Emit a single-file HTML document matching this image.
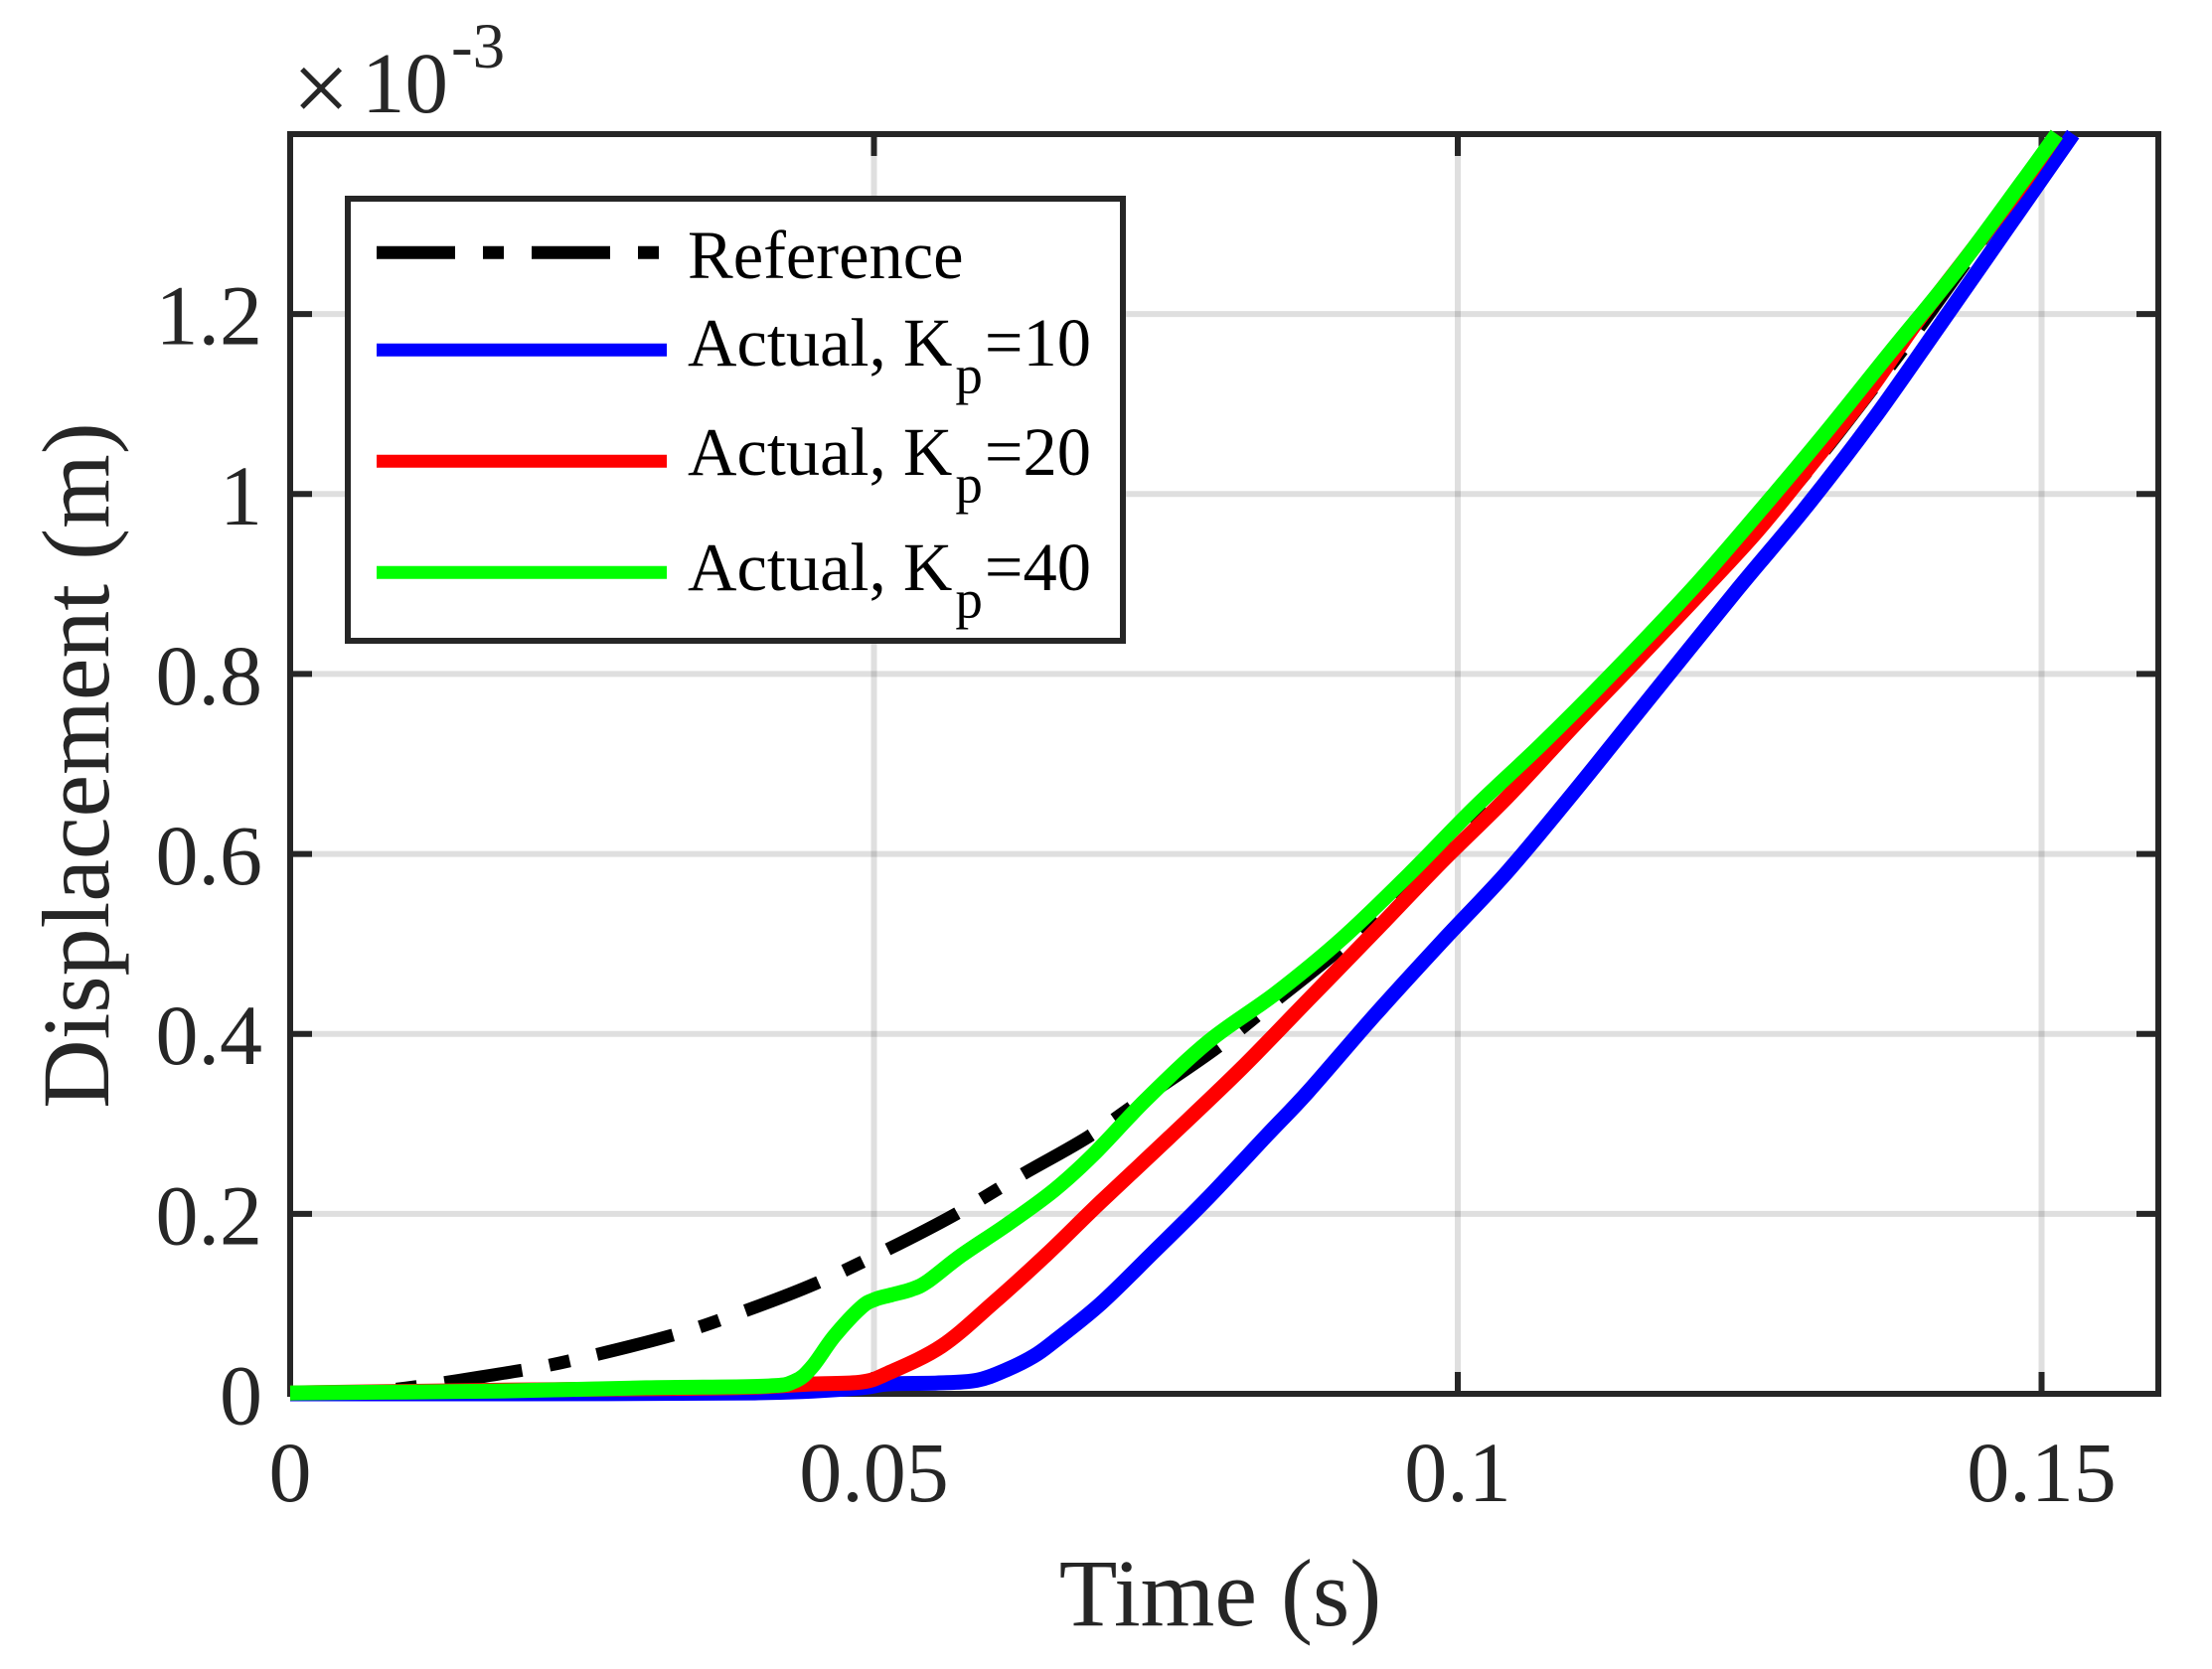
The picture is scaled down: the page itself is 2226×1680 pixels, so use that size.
<!DOCTYPE html>
<html lang="en">
<head>
<meta charset="utf-8">
<title>Displacement vs Time</title>
<style>
html,body{margin:0;padding:0;background:#fff;width:2226px;height:1680px;overflow:hidden}
svg{display:block}
text{font-family:"Liberation Serif","Times New Roman",serif}
</style>
</head>
<body>
<svg id="chart" xmlns="http://www.w3.org/2000/svg" width="2226" height="1680" viewBox="0 0 2226 1680">
  <rect x="0" y="0" width="2226" height="1680" fill="#fff"/>
  <rect x="292" y="135" width="1880" height="1268" fill="#fff"/>
  <g id="grid"></g>
  <g id="ticks"></g>
  <rect x="292" y="135" width="1880" height="1268" fill="none" stroke="#262626" stroke-width="6"/>
  <g id="tick-labels"></g>
  <g id="series"></g>

  <text x="1228" y="1636" font-size="96" fill="#262626" text-anchor="middle">Time (s)</text>
  <text transform="translate(109,770.5) rotate(-90)" font-size="96" fill="#262626" text-anchor="middle">Displacement (m)</text>

  <g fill="#262626">
    <text x="294" y="123" font-size="103">×</text>
    <text x="364" y="113" font-size="87">10</text>
    <text x="454" y="68" font-size="65">-3</text>
  </g>

  <g>
    <rect x="350" y="200" width="780" height="445" fill="#fff" stroke="#262626" stroke-width="6"/>
    <line x1="379" y1="254.3" x2="671" y2="254.3" stroke="#000" stroke-width="13" stroke-dasharray="79 28 21 28"/>
    <text x="692" y="280" font-size="68.5" fill="#000">Reference</text>
    <line x1="379" y1="352.3" x2="671" y2="352.3" stroke="#00f" stroke-width="13"/>
    <text x="692" y="368" font-size="68.5" fill="#000">Actual, K<tspan font-size="55" dx="3" dy="28">p</tspan><tspan dx="2" dy="-28">=10</tspan></text>
    <line x1="379" y1="464.3" x2="671" y2="464.3" stroke="#f00" stroke-width="13"/>
    <text x="692" y="478" font-size="68.5" fill="#000">Actual, K<tspan font-size="55" dx="3" dy="28">p</tspan><tspan dx="2" dy="-28">=20</tspan></text>
    <line x1="379" y1="576.3" x2="671" y2="576.3" stroke="#0f0" stroke-width="13"/>
    <text x="692" y="594" font-size="68.5" fill="#000">Actual, K<tspan font-size="55" dx="3" dy="28">p</tspan><tspan dx="2" dy="-28">=40</tspan></text>
  </g>
</svg>
<script>
const xTickValues = [0, 0.05, 0.1, 0.15];
const xTickLabels = ["0", "0.05", "0.1", "0.15"];
const yTickValues = [0, 0.2, 0.4, 0.6, 0.8, 1, 1.2];
const yTickLabels = ["0", "0.2", "0.4", "0.6", "0.8", "1", "1.2"];

const referenceTime = [0,0.005,0.0099,0.0164,0.023,0.0327,0.0387,0.0449,0.0511,0.0569,0.0626,0.0684,0.0736,0.0794,0.0844,0.0896,0.0945,0.0992,0.1038,0.1113,0.1169,0.1223,0.1266,0.1309,0.135,0.139,0.143,0.1468,0.1513];
const referenceValue = [0,0.001,0.0064,0.019,0.034,0.065,0.091,0.122,0.16,0.199,0.243,0.286,0.333,0.385,0.437,0.491,0.548,0.606,0.667,0.77,0.845,0.915,0.975,1.04,1.108,1.176,1.248,1.317,1.4];

const kp10Time = [0,0.0177,0.0398,0.0483,0.0512,0.0554,0.0588,0.0614,0.0637,0.0654,0.0694,0.0739,0.0784,0.0837,0.0872,0.0929,0.0986,0.1043,0.1099,0.1153,0.1237,0.1298,0.1356,0.1413,0.147,0.1527];
const kp10Value = [0,0,0.001,0.006,0.011,0.012,0.015,0.027,0.042,0.058,0.1,0.157,0.215,0.288,0.336,0.421,0.502,0.581,0.668,0.755,0.89,0.985,1.083,1.188,1.294,1.4];

const kp20Time = [0,0.0177,0.033,0.0398,0.0447,0.0489,0.0512,0.0558,0.0603,0.0648,0.0694,0.0753,0.0815,0.0872,0.0929,0.0986,0.1043,0.1099,0.1153,0.1207,0.1256,0.1298,0.1353,0.1387,0.141,0.1456,0.1484,0.1513];
const kp20Value = [0.001,0.004,0.006,0.0075,0.011,0.013,0.023,0.053,0.102,0.155,0.213,0.285,0.362,0.438,0.514,0.591,0.664,0.742,0.815,0.889,0.958,1.025,1.116,1.18,1.22,1.297,1.345,1.4];

const kp40Time = [0,0.0177,0.0305,0.0407,0.0432,0.0447,0.0466,0.0489,0.0501,0.0515,0.0532,0.0546,0.0575,0.0614,0.0654,0.0688,0.0733,0.0787,0.0844,0.0901,0.0958,0.1014,0.1071,0.1128,0.1199,0.1256,0.1313,0.137,0.1427,0.1484,0.1513];
const kp40Value = [0.001,0.003,0.0067,0.0086,0.014,0.03,0.064,0.096,0.105,0.11,0.116,0.125,0.154,0.188,0.226,0.266,0.327,0.392,0.445,0.506,0.577,0.651,0.721,0.795,0.892,0.977,1.065,1.157,1.248,1.348,1.4];

const NS = "http://www.w3.org/2000/svg";
const plotLeft = 292, plotRight = 2172, plotTop = 135, plotBottom = 1403;
const xMax = 0.16, yMax = 1.4;
const tickLength = 22;

function xScale(t) { return plotLeft + (t / xMax) * (plotRight - plotLeft); }
function yScale(v) { return plotBottom - (v / yMax) * (plotBottom - plotTop); }

function make(tag, attrs, parent) {
  const el = document.createElementNS(NS, tag);
  for (const k in attrs) el.setAttribute(k, attrs[k]);
  parent.appendChild(el);
  return el;
}

function smoothPath(times, values) {
  const p = times.map((t, i) => [xScale(t), yScale(values[i])]);
  let d = "M" + p[0][0].toFixed(2) + " " + p[0][1].toFixed(2);
  for (let i = 0; i < p.length - 1; i++) {
    const a = p[Math.max(i - 1, 0)], b = p[i], c = p[i + 1], e = p[Math.min(i + 2, p.length - 1)];
    const c1x = b[0] + (c[0] - a[0]) / 6, c1y = b[1] + (c[1] - a[1]) / 6;
    const c2x = c[0] - (e[0] - b[0]) / 6, c2y = c[1] - (e[1] - b[1]) / 6;
    d += "C" + c1x.toFixed(2) + " " + c1y.toFixed(2) + " " + c2x.toFixed(2) + " " + c2y.toFixed(2) + " " + c[0].toFixed(2) + " " + c[1].toFixed(2);
  }
  return d;
}

const gridGroup = document.getElementById("grid");
const tickGroup = document.getElementById("ticks");
const labelGroup = document.getElementById("tick-labels");
const seriesGroup = document.getElementById("series");

xTickValues.forEach((t, i) => {
  const x = xScale(t);
  if (t > 0) {
    const g = make("line", {x1: x, x2: x, y1: plotTop, y2: plotBottom, stroke: "#262626", "stroke-opacity": 0.15, "stroke-width": 6}, gridGroup);
    
    
    const tb = make("line", {x1: x, x2: x, y1: plotBottom, y2: plotBottom - tickLength, stroke: "#262626", "stroke-width": 6}, tickGroup);
    
    
    const tt = make("line", {x1: x, x2: x, y1: plotTop, y2: plotTop + tickLength, stroke: "#262626", "stroke-width": 6}, tickGroup);
    
    
  }
  const lab = make("text", {x: x, y: 1511, "font-size": 86, fill: "#262626", "text-anchor": "middle"}, labelGroup);
  lab.textContent = xTickLabels[i];
  
  
});

yTickValues.forEach((v, i) => {
  const y = yScale(v);
  if (v > 0) {
    const g = make("line", {x1: plotLeft, x2: plotRight, y1: y, y2: y, stroke: "#262626", "stroke-opacity": 0.15, "stroke-width": 6}, gridGroup);
    
    
    const tl = make("line", {x1: plotLeft, x2: plotLeft + tickLength, y1: y, y2: y, stroke: "#262626", "stroke-width": 6}, tickGroup);
    
    
    const tr = make("line", {x1: plotRight, x2: plotRight - tickLength, y1: y, y2: y, stroke: "#262626", "stroke-width": 6}, tickGroup);
    
    
  }
  const lab = make("text", {x: 264, y: y + 30.5, "font-size": 86, fill: "#262626", "text-anchor": "end"}, labelGroup);
  lab.textContent = yTickLabels[i];
  
  
});

const refLine = make("path", {d: smoothPath(referenceTime, referenceValue), fill: "none", stroke: "#000", "stroke-width": 13, "stroke-dasharray": "79 28 21 28", "stroke-linejoin": "round"}, seriesGroup);



const blueLine = make("path", {d: smoothPath(kp10Time, kp10Value), fill: "none", stroke: "#00f", "stroke-width": 15, "stroke-linejoin": "round"}, seriesGroup);



const redLine = make("path", {d: smoothPath(kp20Time, kp20Value), fill: "none", stroke: "#f00", "stroke-width": 15, "stroke-linejoin": "round"}, seriesGroup);



const greenLine = make("path", {d: smoothPath(kp40Time, kp40Value), fill: "none", stroke: "#0f0", "stroke-width": 15, "stroke-linejoin": "round"}, seriesGroup);


</script>
</body>
</html>
